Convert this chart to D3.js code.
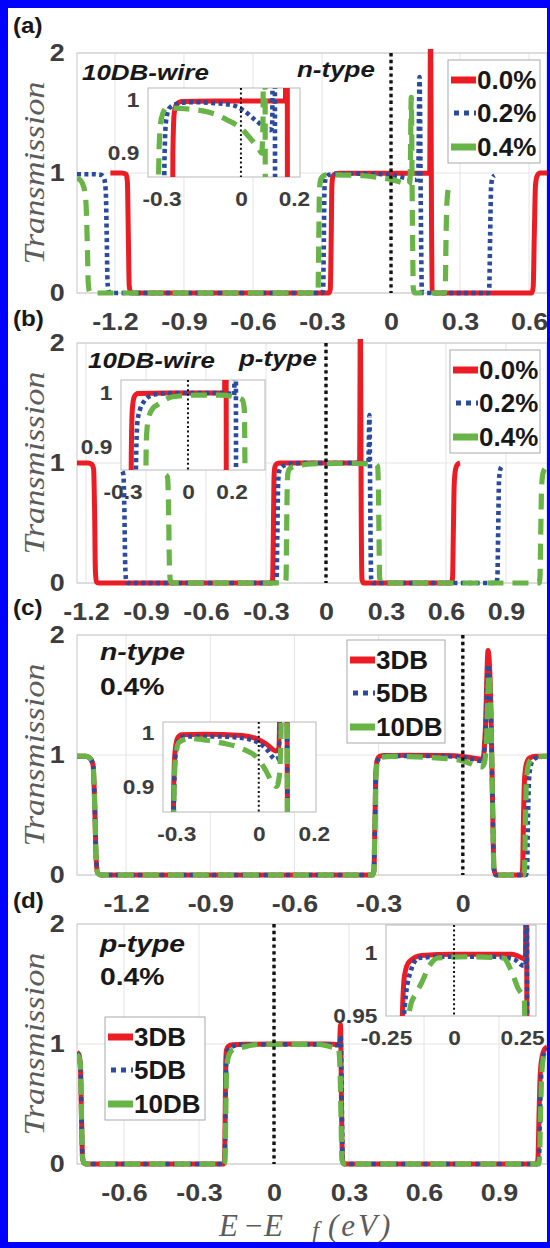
<!DOCTYPE html>
<html>
<head>
<meta charset="utf-8">
<script src="https://cdn.jsdelivr.net/npm/d3@7"></script>
<style>
  body { margin: 0; background: #fff; }
  svg { display: block; }
</style>
</head>
<body>
<script>
// ---- data ----
const strainLabels = ["0.0%", "0.2%", "0.4%"];
const dbLabels = ["3DB", "5DB", "10DB"];

const ticksA = [-1.2, -0.9, -0.6, -0.3, 0, 0.3, 0.6];
const ticksB = [-1.2, -0.9, -0.6, -0.3, 0, 0.3, 0.6, 0.9];
const ticksC = [-1.2, -0.9, -0.6, -0.3, 0];
const ticksD = [-0.6, -0.3, 0, 0.3, 0.6, 0.9];
const yTicks = [0, 1, 2];
const insetXTicks = [-0.3, 0, 0.2];
const insetYTicks = [0.9, 1];
const insetXTicksD = [-0.25, 0, 0.25];
const insetYTicksD = [0.95, 1];

// (a) 10DB-wire, n-type
const aRed = [[-1.22,1.0],[-1.17,1.0],[-1.152,0.99],[-1.146,0.93],[-1.142,0.5],[-1.138,0.06],[-1.132,0.005],[-1.12,0],
  [-0.27,0],[-0.264,0.03],[-0.26,0.45],[-0.257,0.9],[-0.252,0.975],[-0.243,0.992],[-0.225,0.997],[-0.1,0.998],[0.05,0.998],[0.168,0.998],
  [0.172,2.3],[0.176,0.6],[0.179,0.02],[0.187,0],
  [0.612,0],[0.618,0.05],[0.623,0.5],[0.628,0.9],[0.636,0.98],[0.648,1.0],[0.68,1.0]];
const aBlue = [[-1.365,0.99],[-1.3,0.99],[-1.262,0.985],[-1.248,0.96],[-1.24,0.85],[-1.236,0.5],[-1.232,0.08],[-1.226,0.01],[-1.215,0],
  [-0.3,0],[-0.295,0.03],[-0.292,0.45],[-0.289,0.88],[-0.283,0.96],[-0.27,0.985],[-0.24,0.993],[-0.19,0.996],[-0.1,0.994],[-0.03,0.99],[0.008,0.981],[0.06,0.96],[0.11,0.943],[0.118,0.95],
  [0.124,1.8],[0.13,0.6],[0.134,0.02],[0.142,0],
  [0.422,0],[0.427,0.05],[0.431,0.5],[0.435,0.88],[0.441,0.96],[0.45,0.98]];
const aGreen = [[-1.365,0.955],[-1.35,0.94],[-1.335,0.88],[-1.326,0.75],[-1.32,0.4],[-1.316,0.08],[-1.31,0.01],[-1.3,0],
  [-0.322,0],[-0.317,0.03],[-0.314,0.45],[-0.311,0.86],[-0.305,0.95],[-0.295,0.975],[-0.28,0.985],[-0.2,0.983],[-0.12,0.977],[-0.05,0.962],[0.0,0.947],[0.04,0.925],[0.07,0.906],[0.078,0.9],
  [0.083,0.95],[0.088,1.63],[0.093,0.6],[0.097,0.03],[0.104,0],
  [0.232,0],[0.236,0.05],[0.239,0.45],[0.243,0.75],[0.25,0.88],[0.258,0.93]];

// (b) 10DB-wire, p-type
const bRed = [[-1.245,1.0],[-1.19,1.0],[-1.172,0.99],[-1.162,0.95],[-1.157,0.6],[-1.153,0.1],[-1.148,0.01],[-1.135,0],
  [-0.272,0],[-0.267,0.03],[-0.263,0.45],[-0.26,0.88],[-0.255,0.97],[-0.246,0.993],[-0.23,0.999],[-0.1,1.0],[0.1,1.0],[0.168,1.0],
  [0.172,2.3],[0.176,0.6],[0.18,0.03],[0.188,0],
  [0.628,0],[0.633,0.05],[0.637,0.45],[0.641,0.82],[0.648,0.95],[0.658,0.99],[0.67,1.0]];
const bBlue = [[-1.018,0.93],[-1.013,0.9],[-1.008,0.6],[-1.004,0.15],[-0.999,0.02],[-0.99,0],
  [-0.252,0],[-0.247,0.03],[-0.243,0.45],[-0.239,0.85],[-0.232,0.945],[-0.22,0.969],[-0.2,0.985],[-0.17,0.995],[-0.12,0.999],[0.0,1.0],[0.15,1.0],[0.205,0.998],[0.212,0.996],
  [0.217,1.4],[0.222,0.5],[0.226,0.03],[0.234,0],
  [0.852,0],[0.857,0.05],[0.861,0.45],[0.865,0.85],[0.872,0.95],[0.88,0.975]];
const bGreen = [[-0.8,0.9],[-0.792,0.88],[-0.787,0.6],[-0.783,0.15],[-0.778,0.02],[-0.77,0],
  [-0.205,0],[-0.2,0.03],[-0.197,0.4],[-0.194,0.8],[-0.19,0.92],[-0.18,0.955],[-0.16,0.972],[-0.14,0.978],[-0.07,0.993],[0.05,0.996],[0.15,0.996],[0.22,0.992],[0.25,0.987],[0.258,0.97],
  [0.262,0.8],[0.265,0.4],[0.268,0.05],[0.275,0],
  [1.065,0],[1.07,0.05],[1.074,0.45],[1.078,0.8],[1.086,0.92],[1.1,0.96]];

// (c) n-type 0.4%
const cRed = [[-1.375,0.99],[-1.345,0.99],[-1.33,0.975],[-1.318,0.92],[-1.312,0.6],[-1.307,0.15],[-1.302,0.02],[-1.29,0],
  [-0.322,0],[-0.317,0.03],[-0.313,0.45],[-0.31,0.86],[-0.305,0.96],[-0.295,0.99],[-0.28,0.996],[-0.2,0.997],[-0.06,0.995],[0.0,0.987],[0.03,0.978],[0.062,0.966],[0.072,0.97],
  [0.08,1.2],[0.09,1.87],[0.1,1.4],[0.106,0.6],[0.111,0.05],[0.118,0],
  [0.209,0],[0.213,0.05],[0.216,0.45],[0.22,0.8],[0.227,0.93],[0.238,0.975],[0.26,0.99],[0.3,0.99]];
const cBlue = [[-1.375,0.99],[-1.345,0.99],[-1.33,0.975],[-1.318,0.92],[-1.312,0.6],[-1.307,0.15],[-1.302,0.02],[-1.29,0],
  [-0.322,0],[-0.317,0.03],[-0.313,0.45],[-0.309,0.85],[-0.303,0.955],[-0.292,0.985],[-0.27,0.993],[-0.15,0.993],[-0.06,0.99],[0.0,0.981],[0.03,0.968],[0.062,0.95],[0.072,0.955],
  [0.08,1.15],[0.09,1.75],[0.1,1.35],[0.106,0.6],[0.111,0.05],[0.118,0],
  [0.225,0],[0.229,0.05],[0.232,0.45],[0.236,0.8],[0.243,0.92],[0.255,0.97],[0.28,0.985],[0.3,0.99]];
const cGreen = [[-1.375,0.99],[-1.345,0.99],[-1.33,0.975],[-1.318,0.92],[-1.312,0.6],[-1.307,0.15],[-1.302,0.02],[-1.29,0],
  [-0.322,0],[-0.317,0.03],[-0.313,0.45],[-0.309,0.85],[-0.303,0.95],[-0.29,0.982],[-0.25,0.989],[-0.19,0.986],[-0.136,0.981],[-0.06,0.97],[0.0,0.95],[0.025,0.93],[0.053,0.904],[0.065,0.9],[0.075,0.92],
  [0.084,1.1],[0.093,1.68],[0.1,1.3],[0.106,0.6],[0.111,0.05],[0.118,0],
  [0.216,0],[0.22,0.05],[0.223,0.45],[0.227,0.8],[0.234,0.92],[0.247,0.97],[0.27,0.985],[0.3,0.99]];

// (d) p-type 0.4%
const dRed = [[-0.788,0.93],[-0.78,0.91],[-0.774,0.8],[-0.77,0.4],[-0.766,0.06],[-0.761,0.01],[-0.75,0],
  [-0.202,0],[-0.198,0.03],[-0.195,0.45],[-0.193,0.85],[-0.19,0.95],[-0.182,0.982],[-0.165,0.993],[-0.12,0.998],[0.0,0.999],[0.213,0.999],[0.24,0.997],[0.262,0.995],
  [0.266,1.16],[0.27,0.5],[0.274,0.03],[0.282,0],
  [1.052,0],[1.056,0.05],[1.06,0.4],[1.065,0.75],[1.073,0.9],[1.083,0.96],[1.092,0.975]];
const dBlue = [[-0.788,0.92],[-0.78,0.9],[-0.774,0.8],[-0.77,0.4],[-0.766,0.06],[-0.761,0.01],[-0.75,0],
  [-0.202,0],[-0.197,0.03],[-0.194,0.45],[-0.191,0.85],[-0.186,0.94],[-0.18,0.96],[-0.16,0.985],[-0.13,0.996],[-0.05,0.997],[0.15,0.997],[0.22,0.995],[0.255,0.99],[0.263,0.99],
  [0.267,1.07],[0.271,0.5],[0.275,0.03],[0.283,0],
  [1.056,0],[1.06,0.05],[1.064,0.4],[1.069,0.75],[1.077,0.9],[1.092,0.96]];
const dGreen = [[-0.788,0.91],[-0.78,0.89],[-0.774,0.8],[-0.77,0.4],[-0.766,0.06],[-0.761,0.01],[-0.75,0],
  [-0.2,0],[-0.196,0.03],[-0.193,0.4],[-0.19,0.75],[-0.184,0.88],[-0.175,0.93],[-0.16,0.958],[-0.14,0.968],[-0.12,0.976],[-0.09,0.99],[-0.06,0.996],[0.05,0.997],[0.18,0.996],[0.21,0.986],[0.235,0.972],[0.258,0.963],
  [0.264,0.8],[0.268,0.4],[0.272,0.03],[0.28,0],
  [1.058,0],[1.062,0.05],[1.066,0.4],[1.071,0.75],[1.079,0.9],[1.092,0.95]];

// ---- layout / style ----
const W = 550, H = 1248;
const plotLeft = 77, plotRight = 547;
const sans = "'Liberation Sans', Arial, Helvetica, sans-serif";
const serif = "'Liberation Serif', 'Times New Roman', serif";
const tickColor = "#3d3d3d";
const lineStyles = [
  { color: "#ec1c24", width: 5, dash: null },
  { color: "#2b4c9e", width: 4.6, dash: "4,3.4" },
  { color: "#68b447", width: 5.2, dash: "16,9" }
];

const panels = [
  { key: "a", tag: "(a)", tagY: 33, xDomain: [-1.365, 0.678], top: 53, bottom: 293, xTicks: ticksA,
    series: [aRed, aBlue, aGreen],
    legend: { labels: strainLabels, x: 448, y: 60, w: 92, h: 103 },
    notes: [{ t: "10DB-wire", x: 82, y: 80, size: 22, italic: true }, { t: "n-type", x: 297, y: 77, size: 22, italic: true }],
    inset: { left: 148, right: 300, top: 88, bottom: 177, xDomain: [-0.351, 0.223], yDomain: [0.855, 1.0226], xTicks: insetXTicks, yTicks: insetYTicks } },
  { key: "b", tag: "(b)", tagY: 326, xDomain: [-1.245, 1.105], top: 343, bottom: 583, xTicks: ticksB,
    series: [bRed, bBlue, bGreen],
    legend: { labels: strainLabels, x: 450, y: 350, w: 90, h: 103 },
    notes: [{ t: "10DB-wire", x: 88, y: 368, size: 22, italic: true }, { t: "p-type", x: 239, y: 366, size: 22, italic: true }],
    inset: { left: 121, right: 265, top: 380, bottom: 470, xDomain: [-0.307, 0.353], yDomain: [0.857, 1.024], xTicks: insetXTicks, yTicks: insetYTicks } },
  { key: "c", tag: "(c)", tagY: 615, xDomain: [-1.375, 0.3], top: 635, bottom: 875, xTicks: ticksC,
    series: [cRed, cBlue, cGreen],
    legend: { labels: dbLabels, x: 347, y: 640, w: 98, h: 103 },
    notes: [{ t: "n-type", x: 100, y: 660, size: 24, italic: true }, { t: "0.4%", x: 100, y: 695, size: 24, italic: false }],
    inset: { left: 163, right: 316, top: 722, bottom: 812, xDomain: [-0.348, 0.208], yDomain: [0.852, 1.02], xTicks: insetXTicks, yTicks: insetYTicks } },
  { key: "d", tag: "(d)", tagY: 908, xDomain: [-0.788, 1.092], top: 924, bottom: 1164, xTicks: ticksD,
    series: [dRed, dBlue, dGreen],
    legend: { labels: dbLabels, x: 105, y: 1017, w: 100, h: 103 },
    notes: [{ t: "p-type", x: 100, y: 952, size: 24, italic: true }, { t: "0.4%", x: 100, y: 985, size: 24, italic: false }],
    inset: { left: 386, right: 536, top: 925, bottom: 1016, xDomain: [-0.25, 0.301], yDomain: [0.95, 1.0222], xTicks: insetXTicksD, yTicks: insetYTicksD } }
];

const svg = d3.select("body").append("svg").attr("width", W).attr("height", H);
svg.append("rect").attr("width", W).attr("height", H).attr("fill", "#fff");

function boldText(parent, str, x, y, o) {
  return parent.append("text")
    .attr("transform", `translate(${x},${y}) scale(${o.sx || 1},1)`)
    .attr("font-family", sans).attr("font-weight", "bold")
    .attr("font-style", o.italic ? "italic" : "normal")
    .attr("font-size", o.size).attr("fill", o.fill || "#181818")
    .text(str);
}

function styleLine(sel, st) {
  sel.attr("fill", "none").attr("stroke", st.color).attr("stroke-width", st.width)
    .attr("stroke-dasharray", st.dash).attr("stroke-linejoin", "round");
}

function styleAxis(axisG, size, sx) {
  axisG.select(".domain").remove();
  axisG.attr("font-family", sans).attr("font-size", size).attr("font-weight", "bold");
  axisG.selectAll("text").attr("fill", tickColor).attr("transform", `scale(${sx},1)`);
}

function drawPanel(p) {
  const g = svg.append("g");
  const x = d3.scaleLinear().domain(p.xDomain).range([plotLeft, plotRight]);
  const y = d3.scaleLinear().domain([0, 2]).range([p.bottom, p.top]);

  // grid + box
  g.append("g").selectAll("line").data(p.xTicks).join("line")
    .attr("x1", d => x(d)).attr("x2", d => x(d)).attr("y1", p.top).attr("y2", p.bottom)
    .attr("stroke", "#e4e4e4");
  g.append("g").selectAll("line").data(yTicks).join("line")
    .attr("x1", plotLeft).attr("x2", plotRight).attr("y1", d => y(d)).attr("y2", d => y(d))
    .attr("stroke", "#e4e4e4");
  g.append("rect").attr("x", plotLeft).attr("y", p.top)
    .attr("width", plotRight - plotLeft).attr("height", p.bottom - p.top)
    .attr("fill", "none").attr("stroke", "#c8c8c8");

  // axes
  const xa = g.append("g").attr("transform", `translate(0,${p.bottom})`)
    .call(d3.axisBottom(x).tickValues(p.xTicks).tickSize(0).tickPadding(20).tickFormat(d => String(d)));
  styleAxis(xa, 24, 1.12);
  const ya = g.append("g").attr("transform", `translate(${plotLeft},0)`)
    .call(d3.axisLeft(y).tickValues(yTicks).tickSize(0).tickPadding(11).tickFormat(d => String(d)));
  styleAxis(ya, 24, 1.12);

  g.append("text")
    .attr("transform", `translate(44,${(p.top + p.bottom) / 2}) rotate(-90)`)
    .attr("text-anchor", "middle").attr("font-family", serif).attr("font-style", "italic")
    .attr("font-size", 30).attr("fill", "#5c5c5c")
    .attr("textLength", 183).attr("lengthAdjust", "spacingAndGlyphs")
    .text("Transmission");

  // curves
  g.append("clipPath").attr("id", "clip-" + p.key).append("rect")
    .attr("x", plotLeft).attr("y", p.top - 4)
    .attr("width", plotRight - plotLeft).attr("height", p.bottom - p.top + 8);
  const line = d3.line().x(d => x(d[0])).y(d => y(d[1])).curve(d3.curveMonotoneX);
  const lg = g.append("g").attr("clip-path", `url(#clip-${p.key})`);
  p.series.forEach((s, k) => styleLine(lg.append("path").datum(s).attr("d", line), lineStyles[k]));

  // Fermi level
  g.append("line").attr("x1", x(0)).attr("x2", x(0)).attr("y1", y(2)).attr("y2", y(0))
    .attr("stroke", "#111").attr("stroke-width", 3.4).attr("stroke-dasharray", "3.4,3.4");

  p.notes.forEach(n => boldText(g, n.t, n.x, n.y, { size: n.size, italic: n.italic, sx: 1.18 }));
  boldText(svg, p.tag, 13, p.tagY, { size: 22, sx: 1.1 });

  drawInset(g, p);
  drawLegend(g, p.legend);
}

function drawInset(g, p) {
  const s = p.inset;
  const x = d3.scaleLinear().domain(s.xDomain).range([s.left, s.right]);
  const y = d3.scaleLinear().domain(s.yDomain).range([s.bottom, s.top]);
  g.append("rect").attr("x", s.left).attr("y", s.top)
    .attr("width", s.right - s.left).attr("height", s.bottom - s.top)
    .attr("fill", "#fff").attr("stroke", "#b8b8b8");
  g.append("clipPath").attr("id", "iclip-" + p.key).append("rect")
    .attr("x", s.left).attr("y", s.top).attr("width", s.right - s.left).attr("height", s.bottom - s.top);
  const line = d3.line().x(d => x(d[0])).y(d => y(d[1])).curve(d3.curveMonotoneX);
  const ig = g.append("g").attr("clip-path", `url(#iclip-${p.key})`);
  p.series.forEach((ser, k) => styleLine(ig.append("path").datum(ser).attr("d", line), lineStyles[k]));
  ig.append("line").attr("x1", x(0)).attr("x2", x(0)).attr("y1", s.top).attr("y2", s.bottom)
    .attr("stroke", "#111").attr("stroke-width", 2).attr("stroke-dasharray", "2,2.6");

  const xa = g.append("g").attr("transform", `translate(0,${s.bottom})`)
    .call(d3.axisBottom(x).tickValues(s.xTicks).tickSize(0).tickPadding(14).tickFormat(d => String(d)));
  styleAxis(xa, 21, 1.08);
  const ya = g.append("g").attr("transform", `translate(${s.left},0)`)
    .call(d3.axisLeft(y).tickValues(s.yTicks).tickSize(0).tickPadding(8).tickFormat(d => String(d)));
  styleAxis(ya, 21, 1.08);
}

function drawLegend(g, L) {
  const rows = [20, 53, 87];
  g.append("rect").attr("x", L.x).attr("y", L.y).attr("width", L.w).attr("height", L.h)
    .attr("fill", "#fff").attr("stroke", "#a9a9a9");
  L.labels.forEach((lab, k) => {
    const yy = L.y + rows[k], st = lineStyles[k];
    g.append("line")
      .attr("x1", L.x + (k === 1 ? 6 : 3)).attr("x2", L.x + 28).attr("y1", yy).attr("y2", yy)
      .attr("stroke", st.color).attr("stroke-width", k === 1 ? 5 : 7)
      .attr("stroke-dasharray", k === 1 ? "5,5" : null);
    boldText(g, lab, L.x + 29, yy + 9, { size: 25, sx: 1.04 });
  });
}

panels.forEach(drawPanel);

// x label
const xl = svg.append("text").attr("y", 1236).attr("font-family", serif).attr("font-style", "italic")
  .attr("font-size", 31).attr("fill", "#5c5c5c");
xl.append("tspan").attr("x", 219).text("E");
xl.append("tspan").attr("x", 245).attr("font-style", "normal").text("\u2212");
xl.append("tspan").attr("x", 264).text("E");
xl.append("tspan").attr("x", 312).attr("dy", 3).attr("font-size", 25).text("f");
xl.append("tspan").attr("x", 328).attr("dy", -3).attr("letter-spacing", 3).text("(eV)");

// blue frame
const frame = svg.append("g").attr("fill", "#0000fe");
frame.append("rect").attr("x", 0).attr("y", 0).attr("width", W).attr("height", 8);
frame.append("rect").attr("x", 0).attr("y", 0).attr("width", 8).attr("height", H);
frame.append("rect").attr("x", W - 3).attr("y", 0).attr("width", 3).attr("height", H);
frame.append("rect").attr("x", 0).attr("y", H - 6).attr("width", W).attr("height", 6);
</script>
</body>
</html>
